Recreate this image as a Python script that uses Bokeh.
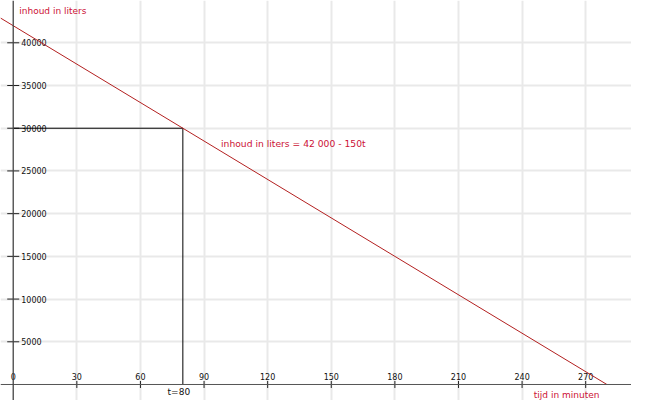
from bokeh.plotting import figure
from bokeh.models import Range1d, FixedTicker, Span
from bokeh.core.properties import value
from bokeh.embed import file_html
from bokeh.resources import INLINE

# ---- data ----
x_ticks = [0, 30, 60, 90, 120, 150, 180, 210, 240, 270]
x_tick_labels = ["0", "30", "60", "90", "120", "150", "180", "210", "240", "270"]
y_ticks = [5000, 10000, 15000, 20000, 25000, 30000, 35000, 40000]
y_tick_labels = ["5000", "10000", "15000", "20000", "25000", "30000", "35000", "40000"]
x_grid = [30, 60, 90, 120, 150, 180, 210, 240, 270]
y_grid = [5000, 10000, 15000, 20000, 25000, 30000, 35000, 40000]

# inhoud in liters = 42000 - 150 t  (end points of the drawn line)
line_t = [-6, 280]
line_v = [42900, 0]

# marked point t = 80 -> 30000 liter
mark_t = [0, 80, 80]
mark_v = [30000, 30000, 0]

RED_LINE = "#b32020"
RED_TEXT = "#cc1136"
FONT = value("DejaVu Sans")

p = figure(width=631, height=400, output_backend="svg", toolbar_location=None,
           x_range=Range1d(-6.0, 291.6), y_range=Range1d(-1873, 44951),
           min_border=0, outline_line_color=None)
p.xaxis.visible = False
p.yaxis.visible = False

p.xgrid.ticker = FixedTicker(ticks=x_grid)
p.ygrid.ticker = FixedTicker(ticks=y_grid)
for g in (p.xgrid, p.ygrid):
    g.grid_line_color = "#e9e9e9"
    g.grid_line_width = 2

# axes through the origin
p.add_layout(Span(location=0, dimension="width", line_color="#555555", line_width=1))
p.add_layout(Span(location=0, dimension="height", line_color="#444444", line_width=1.3))

# ticks
p.scatter(x=x_ticks[1:], y=[0] * (len(x_ticks) - 1), marker="dash", angle=1.5708,
          size=7, line_color="#222222", line_width=1)
p.scatter(x=[0] * len(y_ticks), y=y_ticks, marker="dash", size=12,
          line_color="#222222", line_width=1)

# tick labels
p.text(x=x_ticks, y=[0] * len(x_ticks), text=x_tick_labels, y_offset=-4,
       text_align="center", text_baseline="bottom", text_font=FONT,
       text_font_size="8px", text_color="#111111")
p.text(x=[0] * len(y_ticks), y=y_ticks, text=y_tick_labels, x_offset=8,
       text_align="left", text_baseline="middle", text_font=FONT,
       text_font_size="8px", text_color="#111111")

# reference lines at t = 80
p.line(x=mark_t, y=mark_v, line_color="black", line_width=1)

# main line
p.line(x=line_t, y=line_v, line_color=RED_LINE, line_width=1)

# labels
p.text(x=[80], y=[0], text=["t=80"], x_offset=-4, y_offset=3,
       text_align="center", text_baseline="top", text_font=FONT,
       text_font_size="9px", text_color="#111111")
p.text(x=[261], y=[0], text=["tijd in minuten"], y_offset=6,
       text_align="center", text_baseline="top", text_font=FONT,
       text_font_size="9px", text_color=RED_TEXT)
p.text(x=[0], y=[43780], text=["inhoud in liters"], x_offset=6,
       text_align="left", text_baseline="middle", text_font=FONT,
       text_font_size="9px", text_color=RED_TEXT)
p.text(x=[98], y=[28200], text=["inhoud in liters = 42 000 - 150t"],
       text_align="left", text_baseline="middle", text_font=FONT,
       text_font_size="9.2px", text_color=RED_TEXT)

open("out.html", "w").write(file_html(p, INLINE))
